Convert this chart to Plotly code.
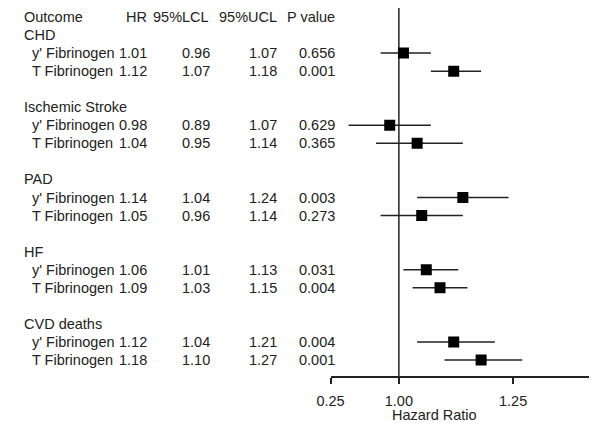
import plotly.graph_objects as go

# ---- data ----
groups = ["CHD", "Ischemic Stroke", "PAD", "HF", "CVD deaths"]
exposures = ["y' Fibrinogen", "T Fibrinogen"]
hr = [1.01, 1.12, 0.98, 1.04, 1.14, 1.05, 1.06, 1.09, 1.12, 1.18]
lcl = [0.96, 1.07, 0.89, 0.95, 1.04, 0.96, 1.01, 1.03, 1.04, 1.10]
ucl = [1.07, 1.18, 1.07, 1.14, 1.24, 1.14, 1.13, 1.15, 1.21, 1.27]
pval = ["0.656", "0.001", "0.629", "0.365", "0.003", "0.273", "0.031", "0.004", "0.004", "0.001"]
headers = ["Outcome", "HR", "95%LCL", "95%UCL", "P value"]
tick_vals = [0.8504, 1.00, 1.25]
tick_text = ["0.25", "1.00", "1.25"]
ref_value = 1.0

# page body margin offset (browser default 8px)
OFF = 8
W, H = 600 - OFF, 427 - OFF
FONT = "Liberation Sans, Arial, sans-serif"
FS = 14.5
TXT = "#222222"

rows_y, group_y = [], []
line = 1
for g in groups:
    group_y.append(line)
    rows_y += [line + 1, line + 2]
    line += 4

fig = go.Figure()
fig.add_trace(go.Scatter(
    x=hr, y=rows_y, mode="markers",
    marker=dict(symbol="square", size=11, color="black"),
    error_x=dict(type="data", symmetric=False,
                 array=[u - h for u, h in zip(ucl, hr)],
                 arrayminus=[h - l for h, l in zip(hr, lcl)],
                 color="#222222", thickness=1.5, width=0),
    showlegend=False, hoverinfo="skip"))

fig.add_shape(type="line", x0=ref_value, x1=ref_value, xref="x",
              y0=0, y1=1, yref="paper", line=dict(color="#222222", width=1.5),
              layer="below")

ann = []
def A(text, px, y, anchor):
    ann.append(dict(text=text, x=(px - OFF) / W, xref="paper", y=y, yref="y",
                    xanchor=anchor, yanchor="middle", showarrow=False,
                    font=dict(family=FONT, size=FS, color=TXT)))

hx = [(8, "left"), (138, "right"), (202, "right"), (271, "right"), (331, "right")]
for t, (px, a) in zip(headers, hx):
    A(t, px, 0, a)

for gi, g in enumerate(groups):
    A(g, 8, group_y[gi], "left")
    for ei, e in enumerate(exposures):
        k = gi * 2 + ei
        y = rows_y[k]
        A(e, 16, y, "left")
        A(f"{hr[k]:.2f}", 138, y, "right")
        A(f"{lcl[k]:.2f}", 203, y, "right")
        A(f"{ucl[k]:.2f}", 271, y, "right")
        A(pval[k], 331, y, "right")

PLOT_TOP, PLOT_BOT = 8 - OFF, 376 - OFF
plot_h = PLOT_BOT - PLOT_TOP
ann.append(dict(text="Hazard Ratio", x=(430 - OFF) / W, xref="paper",
                y=1 - ((415 - OFF) - PLOT_TOP) / plot_h, yref="paper",
                showarrow=False, xanchor="center", yanchor="middle",
                font=dict(family=FONT, size=FS, color=TXT)))

fig.update_layout(
    width=W, height=H,
    margin=dict(l=0, r=0, t=PLOT_TOP, b=H - PLOT_BOT, pad=0),
    plot_bgcolor="white", paper_bgcolor="white",
    annotations=ann,
    xaxis=dict(domain=[(324 - OFF) / W, (589 - OFF) / W], range=[0.8504, 1.4167],
               showgrid=False, zeroline=False, showline=True,
               linecolor="#222222", linewidth=1.5,
               ticks="outside", ticklen=6, tickwidth=1.5, tickcolor="#222222",
               ticklabelstandoff=5,
               tickvals=tick_vals, ticktext=tick_text,
               tickfont=dict(family=FONT, size=FS, color=TXT)),
    yaxis=dict(range=[19.887, -0.4986], visible=False, showgrid=False,
               zeroline=False),
)

fig.write_html("out.html")
